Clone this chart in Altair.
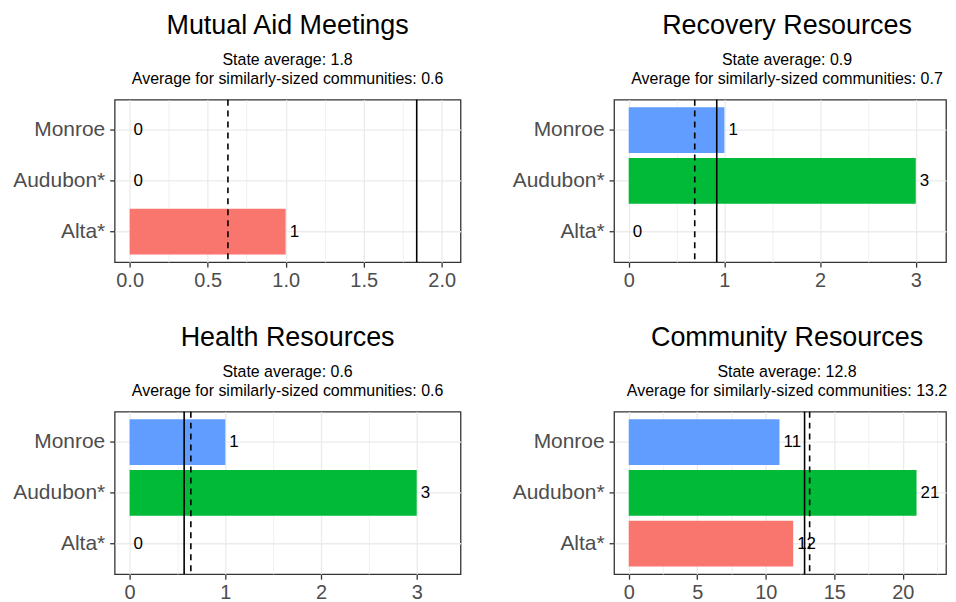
import altair as alt
import pandas as pd

FONT = "Liberation Sans"

communities = ["Alta*", "Audubon*", "Monroe"]
community_order = ["Monroe", "Audubon*", "Alta*"]
bar_colors = ["#F8766D", "#00BA38", "#619CFF"]

panel_titles = ["Mutual Aid Meetings", "Recovery Resources",
                "Health Resources", "Community Resources"]
mutual_aid = [1, 0, 0]
recovery = [0, 3, 1]
health = [0, 3, 1]
community_res = [12, 21, 11]
state_avg = [1.84, 0.92, 0.57, 12.83]
similar_avg = [0.63, 0.69, 0.64, 13.2]

x_domains = [[-0.096, 2.121], [-0.153, 3.316], [-0.156, 3.458], [-1.07, 23.15]]
major_ticks = [[0.0, 0.5, 1.0, 1.5, 2.0], [0, 1, 2, 3], [0, 1, 2, 3], [0, 5, 10, 15, 20]]
minor_ticks = [[0.25, 0.75, 1.25, 1.75], [0.5, 1.5, 2.5], [0.5, 1.5, 2.5],
               [2.5, 7.5, 12.5, 17.5, 22.5]]
tick_formats = [".1f", "d", "d", "d"]
series = [mutual_aid, recovery, health, community_res]
widths = [347, 333, 347, 333]
title_dx = [0, 7, 0, 7]

H = 163


def panel(i):
    df = pd.DataFrame({"community": communities, "value": series[i]})
    scale = alt.Scale(domain=x_domains[i], nice=False, zero=False)
    y_enc = alt.Y(
        "community:N",
        sort=community_order,
        scale=alt.Scale(paddingInner=0.1, paddingOuter=0.15),
        axis=alt.Axis(
            title=None, grid=True, gridColor="#EBEBEB", gridWidth=1.3,
            domain=False, tickColor="#333333", tickSize=5, tickWidth=1.3,
            labelFontSize=21, labelColor="#4D4D4D", labelFont=FONT,
            labelPadding=5,
        ),
    )
    major_axis = alt.Axis(
        values=major_ticks[i], format=tick_formats[i], title=None, orient="bottom",
        grid=True, gridColor="#EBEBEB", gridWidth=1.3, domain=False,
        tickColor="#333333", tickSize=5, tickWidth=1.3,
        labelFontSize=20, labelColor="#4D4D4D", labelFont=FONT,
        labelPadding=3, labelFlush=False,
    )
    minor_axis = alt.Axis(
        values=minor_ticks[i], title=None, orient="bottom", grid=True,
        gridColor="#EBEBEB", gridWidth=0.7, labels=False, ticks=False, domain=False,
    )
    base = alt.Chart(df)
    bars = base.mark_bar().encode(
        x=alt.X("value:Q", scale=scale, axis=major_axis),
        y=y_enc,
        color=alt.Color("community:N",
                        scale=alt.Scale(domain=communities, range=bar_colors),
                        legend=None),
    )
    labels = base.mark_text(align="left", baseline="middle", dx=4,
                            fontSize=17, font=FONT, color="black").encode(
        x=alt.X("value:Q", scale=scale, axis=None),
        y=y_enc,
        text=alt.Text("value:Q", format="d"),
    )
    avg_df = pd.DataFrame({"state": [state_avg[i]], "similar": [similar_avg[i]]})
    solid = alt.Chart(avg_df).mark_rule(color="black", strokeWidth=1.6).encode(
        x=alt.X("state:Q", scale=scale, axis=None)
    )
    dashed = alt.Chart(avg_df).mark_rule(color="black", strokeWidth=1.6,
                                         strokeDash=[6, 5]).encode(
        x=alt.X("similar:Q", scale=scale, axis=minor_axis)
    )
    title = alt.TitleParams(
        text=panel_titles[i],
        subtitle=[f"State average: {state_avg[i]:.1f}",
                  f"Average for similarly-sized communities: {similar_avg[i]:.1f}"],
        fontSize=27, font=FONT, fontWeight="normal", color="black",
        subtitleFontSize=16, subtitleFont=FONT, subtitleColor="black",
        subtitleLineHeight=19, subtitlePadding=12,
        anchor="middle", frame="group", offset=11, dx=title_dx[i],
    )
    return alt.layer(bars, labels, solid, dashed).resolve_axis(
        x="independent"
    ).properties(width=widths[i], height=H, title=title)


chart = alt.vconcat(
    alt.hconcat(panel(0), panel(1), spacing=50),
    alt.hconcat(panel(2), panel(3), spacing=50),
    spacing=32,
).properties(
    padding={"left": 4, "top": 2, "right": 0, "bottom": 0},
    background="white",
).configure_view(
    stroke="#333333", strokeWidth=1.3
)

chart.save("out.html", embed_options={"renderer": "svg", "actions": False})
